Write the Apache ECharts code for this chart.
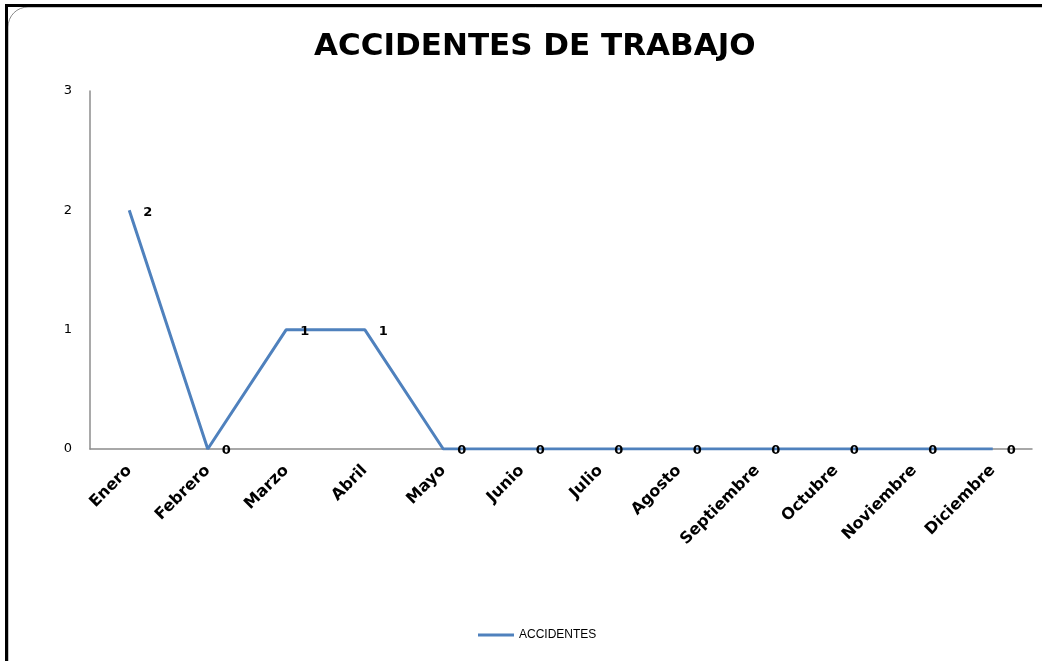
<!DOCTYPE html>
<html>
<head>
<meta charset="utf-8">
<script src="https://cdn.jsdelivr.net/npm/echarts@6/dist/echarts.min.js"></script>
<style>
  html, body { margin: 0; padding: 0; background: #fff; }
  #chart { width: 1042px; height: 661px; }
</style>
</head>
<body>
<div id="chart"></div>
<script>
// data
const months = ['Enero', 'Febrero', 'Marzo', 'Abril', 'Mayo', 'Junio', 'Julio',
  'Agosto', 'Septiembre', 'Octubre', 'Noviembre', 'Diciembre']
const accidents = [2, 0, 1, 1, 0, 0, 0, 0, 0, 0, 0, 0]
const seriesName = 'ACCIDENTES'
const titleText = 'ACCIDENTES DE TRABAJO'

const chart = echarts.init(document.getElementById('chart'))

chart.setOption({
  animation: false,
  title: {
    text: titleText,
    left: 309,
    top: 26,
    textStyle: {
      fontFamily: 'DejaVu Sans',
      fontWeight: 'bold',
      fontSize: 31,
      color: '#000'
    }
  },
  graphic: [
    // frame: black on top and left, rounded grey inner border
    { type: 'rect', shape: { x: 8, y: 7, width: 1060, height: 680, r: 20 },
      style: { fill: 'none', stroke: '#8a8a8a', lineWidth: 1 }, silent: true },
    { type: 'rect', shape: { x: 5, y: 4, width: 1037, height: 3 },
      style: { fill: '#000' }, silent: true },
    { type: 'rect', shape: { x: 5, y: 4, width: 3, height: 657 },
      style: { fill: '#000' }, silent: true }
  ],
  legend: {
    data: [seriesName],
    left: 473,
    top: 624,
    icon: 'rect',
    itemWidth: 36,
    itemHeight: 3,
    itemGap: 4,
    textStyle: { fontFamily: 'Liberation Sans', fontSize: 12, color: '#000' }
  },
  grid: {
    left: 90,
    right: 10,
    top: 91,
    bottom: 212
  },
  xAxis: {
    type: 'category',
    data: months,
    boundaryGap: true,
    axisLine: { lineStyle: { color: '#8c8c8c', width: 1.5 } },
    axisTick: { show: false },
    axisLabel: {
      interval: 0,
      rotate: 45,
      margin: 19,
      fontFamily: 'DejaVu Sans',
      fontWeight: 'bold',
      fontSize: 16,
      color: '#000'
    }
  },
  yAxis: {
    type: 'value',
    min: 0,
    max: 3,
    interval: 1,
    axisLine: { show: true, lineStyle: { color: '#8c8c8c', width: 1.5 } },
    axisTick: { show: false },
    splitLine: { show: false },
    axisLabel: {
      margin: 18,
      fontFamily: 'DejaVu Sans',
      fontSize: 13,
      color: '#000'
    }
  },
  series: [
    {
      name: seriesName,
      type: 'line',
      data: accidents,
      symbol: 'circle',
      symbolSize: 0,
      showSymbol: true,
      lineStyle: { color: '#4f81bd', width: 3 },
      itemStyle: { color: '#4f81bd' },
      label: {
        show: true,
        position: 'right',
        distance: 14,
        offset: [0, 2],
        fontFamily: 'DejaVu Sans',
        fontWeight: 'bold',
        fontSize: 13,
        color: '#000'
      }
    }
  ]
})
</script>
</body>
</html>
